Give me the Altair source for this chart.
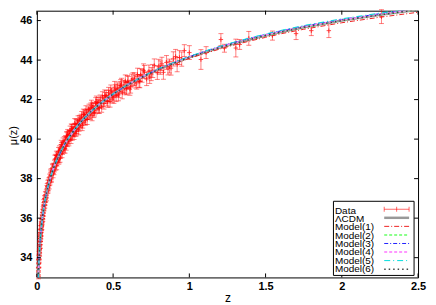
import altair as alt
import pandas as pd

# ---------------- data ----------------
z_data = [
    0.010, 0.011, 0.012, 0.013, 0.014, 0.015, 0.016, 0.017, 0.018, 0.019,
    0.020, 0.021, 0.022, 0.023, 0.024, 0.025, 0.026, 0.027, 0.028, 0.029,
    0.030, 0.031, 0.032, 0.033, 0.034, 0.036, 0.038, 0.040, 0.042, 0.044,
    0.046, 0.048, 0.050, 0.052, 0.054, 0.056, 0.058, 0.060, 0.063, 0.066,
    0.069, 0.072, 0.075, 0.078, 0.081, 0.084, 0.087, 0.090, 0.094, 0.098,
    0.102, 0.106, 0.110, 0.114, 0.118, 0.122, 0.126, 0.130, 0.134, 0.138,
    0.142, 0.146, 0.150, 0.155, 0.160, 0.165, 0.170, 0.175, 0.180, 0.185,
    0.190, 0.195, 0.200, 0.205, 0.210, 0.215, 0.220, 0.226, 0.232, 0.238,
    0.244, 0.250, 0.256, 0.262, 0.268, 0.274, 0.280, 0.287, 0.294, 0.301,
    0.308, 0.315, 0.322, 0.330, 0.338, 0.346, 0.354, 0.362, 0.370, 0.378,
    0.386, 0.394, 0.402, 0.410, 0.420, 0.430, 0.440, 0.450,
    0.108, 0.124, 0.144, 0.158, 0.178, 0.198, 0.218, 0.241, 0.259, 0.283,
    0.297, 0.312, 0.334, 0.358, 0.374, 0.398, 0.425,
    0.460, 0.470, 0.480, 0.490, 0.500, 0.510, 0.520, 0.530, 0.540, 0.550,
    0.560, 0.570, 0.580, 0.590, 0.600, 0.615, 0.630, 0.645, 0.660, 0.675,
    0.690, 0.705, 0.720, 0.735, 0.750, 0.770, 0.790, 0.810, 0.830, 0.850,
    0.870, 0.895, 0.920,
    0.505, 0.525, 0.545, 0.585, 0.620, 0.655, 0.680, 0.740, 0.800, 0.860,
    0.935, 0.967, 1.000, 1.076, 1.110, 1.207, 1.230, 1.305, 1.330, 1.390,
    1.545, 1.700, 1.800, 1.915, 2.260,
    0.104, 0.112, 0.116, 0.128, 0.132, 0.140, 0.148, 0.152, 0.162, 0.168,
    0.172, 0.182, 0.188, 0.192, 0.202, 0.208, 0.212, 0.224, 0.230, 0.236,
    0.248, 0.252, 0.265, 0.270, 0.277, 0.290, 0.305, 0.318, 0.326, 0.342,
    0.350, 0.366, 0.382, 0.390, 0.405, 0.415, 0.435, 0.445,
    0.455, 0.465, 0.475, 0.485, 0.495, 0.515, 0.535, 0.555, 0.575, 0.595,
    0.610, 0.640, 0.670, 0.700, 0.760, 0.820, 0.880, 0.910, 0.950,
    0.0105, 0.0125, 0.0145, 0.0165, 0.0185, 0.0205, 0.0225, 0.0245, 0.0265, 0.0285,
    0.035, 0.037, 0.039, 0.043, 0.047, 0.051, 0.055, 0.062, 0.068, 0.074,
    0.080, 0.086, 0.092, 0.096,
]
mu_data = [
    33.28, 33.27, 33.73, 33.67, 34.11, 33.92, 34.26, 34.56, 34.27, 34.68,
    34.65, 34.98, 34.65, 35.08, 34.99, 35.44, 35.25, 35.47, 35.26, 35.56,
    35.80, 35.54, 35.79, 35.58, 36.02, 35.94, 36.30, 36.10, 36.44, 36.25,
    36.79, 36.62, 36.85, 36.66, 36.96, 37.19, 36.97, 37.17, 37.03, 37.50,
    37.41, 37.77, 37.53, 37.81, 37.64, 38.07, 37.95, 38.32, 38.03, 38.35,
    38.55, 38.25, 38.58, 38.54, 38.98, 38.64, 38.96, 38.66, 39.12, 39.04,
    39.36, 39.02, 39.33, 39.25, 39.72, 39.28, 39.66, 39.58, 39.90, 39.52,
    39.87, 40.15, 39.85, 40.17, 39.89, 40.22, 40.17, 40.53, 40.18, 40.51,
    40.22, 40.53, 40.77, 40.52, 40.77, 40.47, 40.95, 40.81, 41.15, 40.81,
    41.09, 41.00, 41.43, 41.00, 41.37, 41.31, 41.57, 41.19, 41.56, 41.43,
    41.83, 41.59, 41.84, 41.57, 41.86, 42.13, 41.80, 42.08,
    38.45, 39.02, 38.95, 39.51, 39.53, 40.11, 40.43, 40.35, 40.40, 40.85,
    40.68, 41.23, 41.25, 41.71, 41.35, 41.74, 41.63,
    41.96, 42.34, 41.91, 42.30, 42.25, 42.63, 42.20, 42.55, 42.41, 42.72,
    42.34, 42.67, 42.94, 42.59, 42.86, 42.64, 43.05, 42.91, 43.27, 42.92,
    43.20, 43.40, 43.04, 43.42, 43.29, 43.72, 43.36, 43.62, 43.38, 43.88,
    43.70, 44.06, 43.77,
    42.10, 42.48, 42.62, 42.55, 42.98, 42.85, 43.25, 43.15, 43.70, 43.60,
    44.13, 44.48, 44.38, 44.03, 44.38, 45.04, 44.60, 44.61, 44.79, 45.10,
    45.24, 45.34, 45.49, 45.49, 46.20,
    38.51, 38.40, 38.72, 39.18, 38.85, 39.18, 39.44, 39.05, 39.61, 39.44,
    39.84, 39.72, 39.95, 39.67, 40.26, 39.98, 40.21, 40.02, 40.50, 40.40,
    40.80, 40.38, 40.72, 40.93, 40.65, 41.01, 41.27, 40.96, 41.26, 41.51,
    41.26, 41.61, 41.54, 41.91, 41.59, 41.96, 41.93, 42.21,
    42.18, 41.89, 42.20, 42.45, 42.13, 42.46, 42.24, 42.78, 42.59, 42.91,
    42.53, 43.03, 42.94, 43.48, 43.45, 43.81, 43.59, 44.18, 44.05,
    33.14, 33.71, 33.97, 34.40, 34.42, 34.97, 34.83, 35.24, 35.11, 35.66,
    35.82, 36.14, 35.98, 36.52, 36.52, 37.00, 36.81, 37.28, 37.61, 37.42,
    37.90, 37.84, 38.24, 37.98,
]
err_data = [
    0.20, 0.22, 0.20, 0.19, 0.21, 0.20, 0.18, 0.20, 0.19, 0.18,
    0.18, 0.17, 0.18, 0.17, 0.17, 0.17, 0.16, 0.16, 0.16, 0.16,
    0.16, 0.16, 0.16, 0.16, 0.15, 0.15, 0.15, 0.15, 0.15, 0.15,
    0.15, 0.15, 0.15, 0.15, 0.15, 0.15, 0.15, 0.15, 0.15, 0.15,
    0.15, 0.15, 0.15, 0.16, 0.16, 0.16, 0.16, 0.16, 0.16, 0.16,
    0.20, 0.20, 0.20, 0.20, 0.21, 0.21, 0.21, 0.21, 0.21, 0.21,
    0.22, 0.22, 0.22, 0.22, 0.22, 0.22, 0.22, 0.22, 0.23, 0.23,
    0.23, 0.23, 0.23, 0.23, 0.23, 0.23, 0.23, 0.24, 0.24, 0.24,
    0.24, 0.24, 0.24, 0.24, 0.25, 0.25, 0.25, 0.25, 0.25, 0.25,
    0.25, 0.25, 0.26, 0.26, 0.26, 0.26, 0.26, 0.26, 0.26, 0.26,
    0.27, 0.27, 0.27, 0.27, 0.27, 0.27, 0.28, 0.28,
    0.20, 0.21, 0.22, 0.22, 0.23, 0.23, 0.23, 0.24, 0.24, 0.25,
    0.25, 0.25, 0.26, 0.26, 0.26, 0.27, 0.27,
    0.28, 0.28, 0.29, 0.29, 0.29, 0.29, 0.30, 0.30, 0.30, 0.30,
    0.30, 0.30, 0.31, 0.31, 0.31, 0.31, 0.31, 0.32, 0.32, 0.32,
    0.32, 0.33, 0.33, 0.33, 0.33, 0.34, 0.34, 0.34, 0.35, 0.35,
    0.35, 0.36, 0.36,
    0.29, 0.30, 0.30, 0.31, 0.31, 0.32, 0.32, 0.33, 0.34, 0.35,
    0.35, 0.30, 0.35, 0.50, 0.30, 0.30, 0.20, 0.45, 0.25, 0.35,
    0.23, 0.30, 0.25, 0.35, 0.35,
    0.20, 0.20, 0.21, 0.21, 0.21, 0.21, 0.22, 0.22, 0.22, 0.22,
    0.22, 0.23, 0.23, 0.23, 0.23, 0.23, 0.23, 0.24, 0.24, 0.24,
    0.24, 0.24, 0.25, 0.25, 0.25, 0.25, 0.25, 0.26, 0.26, 0.26,
    0.26, 0.26, 0.27, 0.27, 0.27, 0.27, 0.28, 0.28,
    0.28, 0.28, 0.29, 0.29, 0.29, 0.29, 0.30, 0.30, 0.30, 0.31,
    0.31, 0.32, 0.32, 0.33, 0.33, 0.34, 0.35, 0.36, 0.36,
    0.21, 0.20, 0.20, 0.19, 0.18, 0.18, 0.17, 0.17, 0.16, 0.16,
    0.15, 0.15, 0.15, 0.15, 0.15, 0.15, 0.15, 0.15, 0.15, 0.15,
    0.16, 0.16, 0.16, 0.16,
]

z_model = [0.009, 0.01, 0.015, 0.02, 0.025, 0.03, 0.035, 0.04, 0.05, 0.06,
           0.07, 0.08, 0.09, 0.1, 0.12, 0.14, 0.16, 0.18, 0.2, 0.25,
           0.3, 0.35, 0.4, 0.45, 0.5, 0.6, 0.7, 0.8, 0.9, 1.0,
           1.1, 1.2, 1.3, 1.4, 1.5, 1.6, 1.75, 2.0, 2.25, 2.5]
mu_low = [32.95, 33.18, 34.07, 34.70, 35.19, 35.60, 35.94, 36.24, 36.74, 37.15,
          37.50, 37.80, 38.07, 38.32, 38.75, 39.10, 39.42, 39.71, 39.97, 40.51,
          40.97]
mu_lcdm = mu_low + [41.36, 41.70, 42.00, 42.28, 42.77, 43.18, 43.54, 43.85, 44.14,
                    44.39, 44.63, 44.85, 45.05, 45.24, 45.42, 45.66, 46.00, 46.29, 46.55]
mu_m1 = mu_low + [41.35, 41.68, 41.98, 42.26, 42.74, 43.14, 43.50, 43.80, 44.09,
                  44.33, 44.56, 44.78, 44.97, 45.15, 45.33, 45.56, 45.89, 46.17, 46.42]
mu_m2 = mu_low + [41.36, 41.70, 42.00, 42.28, 42.78, 43.19, 43.55, 43.86, 44.15,
                  44.40, 44.64, 44.86, 45.06, 45.25, 45.43, 45.67, 46.01, 46.30, 46.56]
mu_m3 = mu_low + [41.36, 41.70, 42.00, 42.28, 42.77, 43.19, 43.56, 43.88, 44.18,
                  44.44, 44.68, 44.91, 45.11, 45.30, 45.48, 45.72, 46.06, 46.35, 46.61]
mu_m4 = mu_low + [41.36, 41.70, 42.00, 42.28, 42.78, 43.20, 43.56, 43.87, 44.16,
                  44.42, 44.66, 44.88, 45.08, 45.27, 45.45, 45.69, 46.03, 46.32, 46.58]
mu_m5 = mu_low + [41.36, 41.70, 42.00, 42.29, 42.78, 43.20, 43.57, 43.89, 44.19,
                  44.45, 44.70, 44.92, 45.13, 45.32, 45.50, 45.75, 46.09, 46.38, 46.64]
mu_m6 = mu_low + [41.36, 41.70, 42.00, 42.28, 42.77, 43.18, 43.54, 43.85, 44.14,
                  44.39, 44.63, 44.85, 45.05, 45.24, 45.42, 45.66, 46.00, 46.29, 46.55]

series_names = ["Data", "ΛCDM", "Model(1)", "Model(2)", "Model(3)",
                "Model(4)", "Model(5)", "Model(6)"]
x_ticks = [0, 0.5, 1, 1.5, 2, 2.5]
y_ticks = [34, 36, 38, 40, 42, 44, 46]

# ---------------- styling ----------------
W, H = 383, 268
FONT = "Liberation Sans"
RED = "#ff0000"
xs = alt.Scale(domain=[0, 2.5], nice=False, zero=False)
ys = alt.Scale(domain=[33, 46.5], nice=False, zero=False)

df = pd.DataFrame({"z": z_data, "mu": mu_data, "err": err_data})
df["lo"] = df["mu"] - df["err"]
df["hi"] = df["mu"] + df["err"]

x_axis = alt.Axis(values=x_ticks, format="~g", title="z", grid=False, ticks=False,
                  tickSize=0, domain=False, labelFont=FONT, labelFontSize=11,
                  labelFontWeight="bold", labelColor="black", labelPadding=3,
                  labelFlush=False, titleFont=FONT, titleFontSize=12,
                  titleFontWeight="normal", titleColor="black", titleX=W / 2,
                  titleY=20, titleBaseline="middle", titleAlign="center")
y_axis = alt.Axis(values=y_ticks, title="μ(z)", grid=False, ticks=False, tickSize=0,
                  domain=False, labelFont=FONT, labelFontSize=11,
                  labelFontWeight="bold", labelColor="black", labelPadding=5,
                  labelFlush=False, titleFont=FONT, titleFontSize=11,
                  titleFontWeight="normal", titleColor="black", titleAngle=270,
                  titleX=-23, titleY=125, titleAlign="center",
                  titleBaseline="middle")


def X(f):
    return alt.X(f, scale=xs, axis=x_axis)


def Y(f):
    return alt.Y(f, scale=ys, axis=y_axis)


layers = []

# error bars
layers.append(
    alt.Chart(df).mark_rule(color=RED, opacity=0.5, strokeWidth=1).encode(
        x=X("z:Q"), y=Y("lo:Q"), y2="hi:Q")
)
for f in ["lo", "hi"]:
    layers.append(
        alt.Chart(df).mark_tick(color=RED, opacity=0.5, orient="horizontal",
                                size=5, thickness=1).encode(
            x=X("z:Q"), y=Y(f + ":Q"))
    )
layers.append(
    alt.Chart(df).mark_point(shape="M-1,0L1,0M0,-1L0,1", size=20, color=RED,
                             filled=False, strokeWidth=1, opacity=0.7).encode(
        x=X("z:Q"), y=Y("mu:Q"))
)

# model curves
curve_styles = [
    (mu_lcdm, "#999999", 2.5, None),
    (mu_m1, "#ee2222", 1.0, [5, 2, 1, 2]),
    (mu_m2, "#66ff66", 1.5, [3, 2]),
    (mu_m3, "#2222ff", 1.0, [4, 2, 1, 2]),
    (mu_m4, "#ff77ff", 1.5, [3, 2]),
    (mu_m5, "#00dddd", 1.0, [6, 3, 1, 3]),
    (mu_m6, "#444444", 1.5, [1.5, 3]),
]
for vals, col, sw, dash in curve_styles:
    kw = dict(color=col, strokeWidth=sw, clip=True)
    if dash:
        kw["strokeDash"] = dash
    layers.append(
        alt.Chart(pd.DataFrame({"z": z_model, "mu": vals})).mark_line(**kw).encode(
            x=X("z:Q"), y=Y("mu:Q"))
    )

# inward ticks on all four sides
xt = pd.DataFrame({"z": x_ticks})
yt = pd.DataFrame({"mu": y_ticks})
for y0, y1 in [(H, H - 4), (0, 4)]:
    layers.append(alt.Chart(xt).mark_rule(color="black").encode(
        x=X("z:Q"), y=alt.value(y0), y2=alt.value(y1)))
for x0, x1 in [(0, 4), (W, W - 4)]:
    layers.append(alt.Chart(yt).mark_rule(color="black").encode(
        y=Y("mu:Q"), x=alt.value(x0), x2=alt.value(x1)))

# legend
one = pd.DataFrame({"k": [0]})
layers.append(alt.Chart(one).mark_rect(fill="white", stroke="black", strokeWidth=1).encode(
    x=alt.value(298), x2=alt.value(379), y=alt.value(191.5), y2=alt.value(266)))
LX0, LX1 = 349, 374
for i, name in enumerate(series_names):
    ty = 201 + 8.36 * i
    sy = 199.5 + 8.6 * i
    layers.append(alt.Chart(pd.DataFrame({"label": [name]})).mark_text(
        align="left", baseline="middle", font=FONT, fontSize=10, color="black").encode(
        x=alt.value(299.5), y=alt.value(ty), text="label:N"))
    if i == 0:
        layers.append(alt.Chart(one).mark_rule(color=RED, opacity=0.6).encode(
            x=alt.value(LX0), x2=alt.value(LX1), y=alt.value(sy)))
        for xx in [LX0, (LX0 + LX1) / 2, LX1]:
            layers.append(alt.Chart(one).mark_rule(color=RED, opacity=0.6).encode(
                x=alt.value(xx), y=alt.value(sy - 2.5), y2=alt.value(sy + 2.5)))
    else:
        _, col, sw, dash = curve_styles[i - 1]
        kw = dict(color=col, strokeWidth=sw)
        if dash:
            kw["strokeDash"] = dash
        layers.append(alt.Chart(one).mark_rule(**kw).encode(
            x=alt.value(LX0), x2=alt.value(LX1), y=alt.value(sy)))

chart = alt.layer(*layers).properties(
    width=W, height=H,
    autosize=alt.AutoSizeParams(type="none"),
    padding={"left": 29, "top": 2, "right": 10, "bottom": 28},
).configure_view(stroke="black", strokeWidth=1)

chart.save("out.html", embed_options={"renderer": "svg", "actions": False})
